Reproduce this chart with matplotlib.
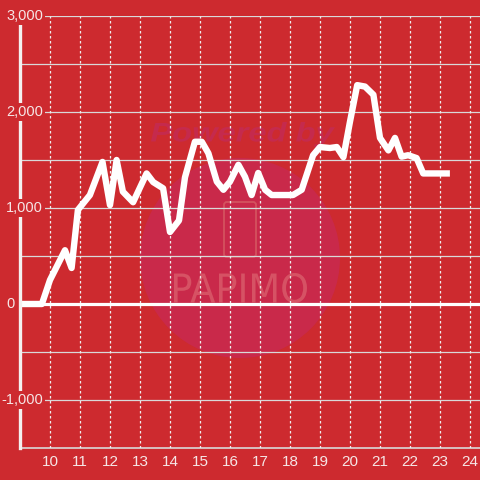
import matplotlib
matplotlib.use("Agg")
import matplotlib.pyplot as plt
from matplotlib.patches import Circle, FancyBboxPatch, PathPatch
from matplotlib.textpath import TextPath
from matplotlib.font_manager import FontProperties
from matplotlib.transforms import Affine2D, IdentityTransform

# hours of the day and values
hours = [9.0, 9.73, 10.0, 10.5, 10.72, 10.93, 11.33, 11.75, 12.0, 12.22,
         12.43, 12.77, 13.22, 13.44, 13.77, 14.0, 14.3, 14.5, 14.83, 15.06,
         15.28, 15.56, 15.78, 16.0, 16.28, 16.5, 16.72, 16.94, 17.17, 17.39,
         18.1, 18.39, 18.77, 19.0, 19.33, 19.56, 19.78, 20.0, 20.24, 20.5,
         20.78, 21.0, 21.28, 21.5, 21.72, 21.94, 22.22, 22.44, 23.33]
values = [0, 0, 250, 560, 375, 980, 1135, 1480, 1030, 1500,
          1170, 1060, 1360, 1270, 1205, 750, 870, 1320, 1690, 1690,
          1570, 1275, 1190, 1275, 1450, 1325, 1135, 1365, 1190, 1135,
          1135, 1190, 1550, 1635, 1625, 1635, 1530, 1900, 2280, 2265,
          2180, 1730, 1600, 1730, 1535, 1550, 1520, 1360, 1360]

x_ticks = list(range(10, 25))
y_ticks = [-1000, 0, 1000, 2000, 3000]
y_minor = [-1500, -500, 500, 1500, 2500]

BG = "#cd2a2f"
W = H = 480
plt.rcParams["font.family"] = ["Liberation Sans", "DejaVu Sans"]

fig = plt.figure(figsize=(4.8, 4.8), dpi=100)
fig.patch.set_facecolor(BG)
ax = fig.add_axes([20 / W, 32 / H, 460 / W, 432 / H])
ax.set_facecolor("none")
ax.set_zorder(2)
ax.set_xlim(9, 24 + 1 / 3)
ax.set_ylim(-1500, 3000)


def fit_text(s, left, top, right, bottom, color, **font):
    # draw text stretched into a pixel box (image coords, y down)
    tp = TextPath((0, 0), s, size=10, prop=FontProperties(**font))
    ext = tp.get_extents()
    sx = (right - left) / ext.width
    sy = (bottom - top) / ext.height
    tr = (Affine2D().translate(-ext.x0, -ext.y0).scale(sx, sy)
          .translate(left, H - bottom))
    fig.patches.append(PathPatch(tp, transform=tr + IdentityTransform(),
                                 facecolor=color, edgecolor="none", zorder=-1))


# watermark, behind the axes
fig.patches.append(Circle((240 / W, 1 - 258 / H), 100 / W, transform=fig.transFigure,
                          facecolor="#c9294a", edgecolor="none", zorder=-2))
fit_text("Powered by", 151, 122, 335, 147, "#c52a4d",
         family="Liberation Sans", weight="bold", style="italic")
fig.patches.append(FancyBboxPatch((224 / W, 1 - 257 / H), 32 / W, 55 / H,
                                  boxstyle="round,pad=0,rounding_size=0.006",
                                  transform=fig.transFigure, facecolor="none",
                                  edgecolor="#d4525f", lw=1.3, zorder=-1))
fit_text("PAPIMO", 174, 273, 307, 303, "#d65264", family="DejaVu Sans")

# grid
for y in y_minor[1:] + y_ticks:
    if y != 0:
        ax.axhline(y, color="#d9d9d9", lw=0.9, zorder=1)
ax.axhline(-1500, color="#d9d9d9", lw=1.2, zorder=1, clip_on=False)
for x in x_ticks:
    ax.axvline(x, color="#eeeeee", lw=0.9, ls=(0, (2, 2)), zorder=1)
ax.axhline(0, color="white", lw=2.3, zorder=2)

ax.plot(hours, values, color="white", lw=4.6, solid_joinstyle="round",
        solid_capstyle="butt", zorder=3)

for s in ["top", "right", "bottom"]:
    ax.spines[s].set_visible(False)
ax.spines["left"].set_color("#f4f0f0")
ax.spines["left"].set_linewidth(2.4)
ax.spines["left"].set_zorder(4)

ax.set_yticks([])
ax.set_xticks(x_ticks)
ax.set_xticklabels([str(x) for x in x_ticks], color="#f6e6e6", fontsize=11)
ax.tick_params(axis="x", length=0, pad=5)

for y in y_ticks:
    if y == 0:
        ax.text(-5 / 460, y, "0", transform=ax.get_yaxis_transform(),
                ha="right", va="center", color="#f6e6e6", fontsize=10.5,
                zorder=5, clip_on=False)
        continue
    ax.text(23 / 460, y, f"{y:,}", transform=ax.get_yaxis_transform(),
            ha="right", va="center", color="#f6e6e6", fontsize=10.5, zorder=5,
            clip_on=False,
            bbox=dict(boxstyle="square,pad=0.15", facecolor=BG, edgecolor="none"))

fig.savefig("out.png", dpi=100, facecolor=BG)
